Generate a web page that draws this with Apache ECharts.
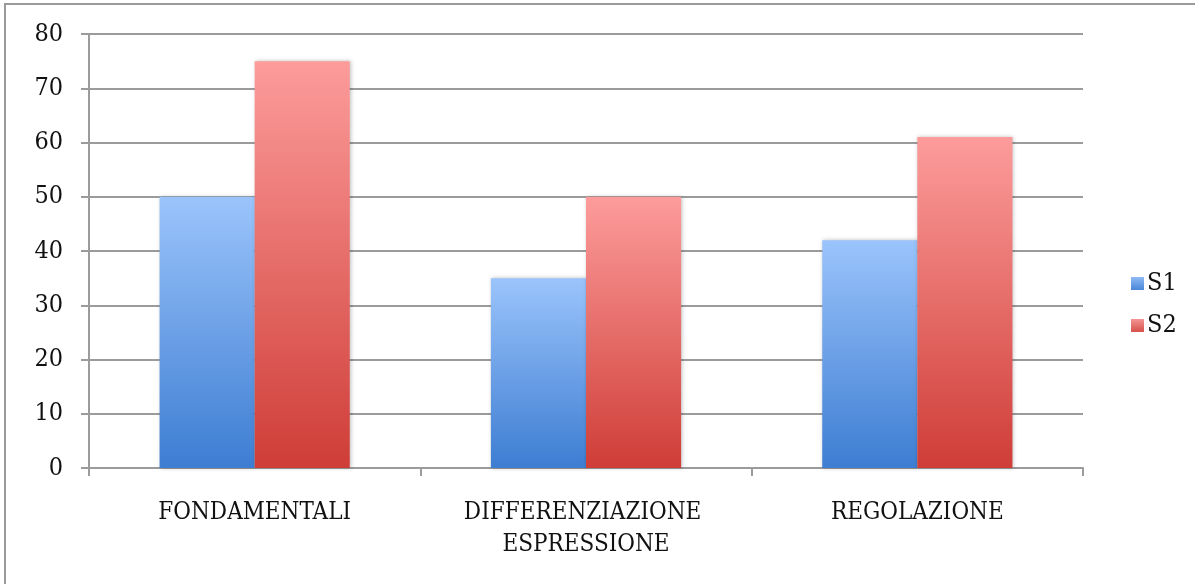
<!DOCTYPE html>
<html>
<head>
<meta charset="utf-8">
<script src="https://cdn.jsdelivr.net/npm/echarts@6/dist/echarts.min.js"></script>
<style>
  html, body { margin: 0; padding: 0; background: #fff; }
  #frame {
    position: absolute; left: 4px; top: 3px; width: 1195px; height: 584px;
    border-top: 2px solid #9a9a9a; border-left: 2px solid #9a9a9a;
  }
  #chart { position: absolute; left: 0; top: 0; width: 1195px; height: 584px; }
</style>
</head>
<body>
<div id="frame"></div>
<div id="chart"></div>
<script>
const categories = ['FONDAMENTALI', 'DIFFERENZIAZIONE ESPRESSIONE', 'REGOLAZIONE'];
const seriesNames = ['S1', 'S2'];
const s1Values = [50, 35, 42];
const s2Values = [75, 50, 61];

const serif = '"DejaVu Serif Condensed", "DejaVu Serif", "Liberation Serif", serif';
const lineGray = '#9b9b9b';

function vGrad(top, bottom) {
  return new echarts.graphic.LinearGradient(0, 0, 0, 1, [
    { offset: 0, color: top },
    { offset: 1, color: bottom }
  ]);
}

const chart = echarts.init(document.getElementById('chart'), null, { renderer: 'canvas' });
chart.setOption({
  animation: false,
  backgroundColor: 'transparent',
  grid: { left: 89, right: 112, top: 34, bottom: 116, containLabel: false },
  legend: {
    orient: 'vertical',
    left: 1126,
    top: 266,
    itemWidth: 13,
    itemHeight: 13,
    itemGap: 17,
    icon: 'rect',
    textStyle: { fontFamily: serif, fontSize: 25, color: '#111', padding: [0, 0, 0, -2] },
    data: [
      { name: seriesNames[0], itemStyle: { color: vGrad('#8fbaf5', '#4a86d8') } },
      { name: seriesNames[1], itemStyle: { color: vGrad('#f49593', '#d5504b') } }
    ]
  },
  xAxis: {
    type: 'category',
    data: categories,
    axisLine: { show: true, lineStyle: { color: lineGray, width: 2 } },
    axisTick: { show: true, length: 8, interval: 0, lineStyle: { color: lineGray, width: 2 } },
    axisLabel: {
      interval: 0,
      fontFamily: serif, fontSize: 24, color: '#111', margin: 29,
      lineHeight: 32, width: 320, overflow: 'break', align: 'center'
    }
  },
  yAxis: {
    type: 'value',
    min: 0, max: 80, interval: 10,
    axisLine: { show: true, lineStyle: { color: lineGray, width: 2 } },
    axisTick: { show: true, length: 8, lineStyle: { color: lineGray, width: 2 } },
    axisLabel: { fontFamily: serif, fontSize: 25, color: '#111', margin: 26, padding: [3, 0, 0, 0] },
    splitLine: { show: true, lineStyle: { color: lineGray, width: 2 } }
  },
  series: [
    {
      name: seriesNames[0], type: 'bar', data: s1Values,
      barGap: '0%', barCategoryGap: '42.6%',
      itemStyle: {
        color: vGrad('#9bc4fb', '#3d7dd2'),
        shadowColor: 'rgba(0,0,0,0.25)', shadowBlur: 4, shadowOffsetX: 1, shadowOffsetY: 0
      }
    },
    {
      name: seriesNames[1], type: 'bar', data: s2Values,
      barGap: '0%', barCategoryGap: '42.6%',
      itemStyle: {
        color: vGrad('#fc9c9b', '#cf3d37'),
        shadowColor: 'rgba(0,0,0,0.25)', shadowBlur: 4, shadowOffsetX: 1, shadowOffsetY: 0
      }
    }
  ]
});
</script>
</body>
</html>
